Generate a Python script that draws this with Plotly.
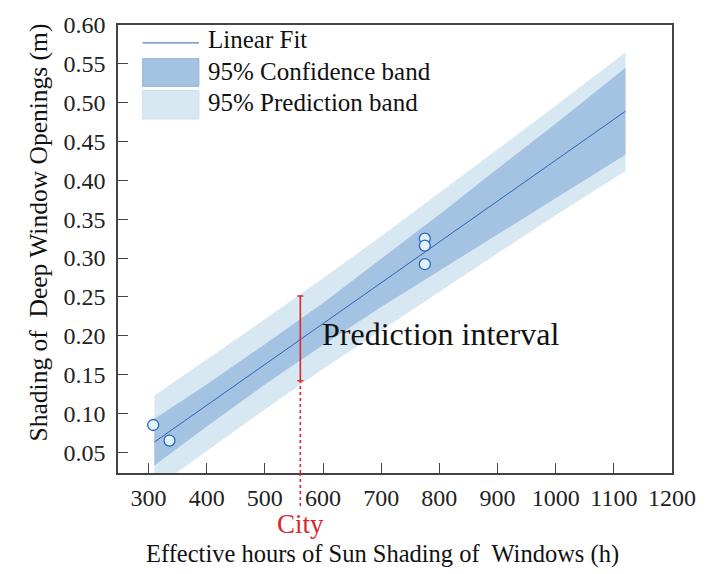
import plotly.graph_objects as go

# Measured samples: effective sun-shading hours vs. deep window opening shading
hours = [308, 336, 775, 775, 775]
shading = [0.085, 0.065, 0.325, 0.316, 0.292]

# Linear fit end points
fit_x = [310, 1120]
fit_y = [0.063, 0.489]

# 95% confidence / prediction band edges
band_x = [310, 400, 500, 600, 700, 800, 900, 1000, 1120]
conf_upper = [0.093, 0.137, 0.189, 0.242, 0.299, 0.356, 0.415, 0.473, 0.545]
conf_lower = [0.033, 0.083, 0.137, 0.188, 0.237, 0.284, 0.331, 0.377, 0.433]
pred_upper = [0.123, 0.169, 0.221, 0.274, 0.328, 0.384, 0.440, 0.496, 0.565]
pred_lower = [0.003, 0.051, 0.105, 0.157, 0.207, 0.257, 0.306, 0.355, 0.412]

# Prediction interval for the city
city_x = 561
city_low = 0.142
city_high = 0.251

x_ticks = [300, 400, 500, 600, 700, 800, 900, 1000, 1100, 1200]
y_ticks = [0.05, 0.10, 0.15, 0.20, 0.25, 0.30, 0.35, 0.40, 0.45, 0.50, 0.55, 0.60]

SERIF = "'Liberation Serif', 'Times New Roman', Times, serif"
PRED_FILL = "rgb(216,232,243)"
CONF_FILL = "rgb(164,195,226)"
FIT_COLOR = "rgb(45,100,175)"
RED = "rgb(214,40,46)"

fig = go.Figure()

# Prediction band
fig.add_trace(go.Scatter(x=band_x, y=pred_lower, mode="lines",
                         line=dict(width=0), showlegend=False, hoverinfo="skip"))
fig.add_trace(go.Scatter(x=band_x, y=pred_upper, mode="lines", fill="tonexty",
                         fillcolor=PRED_FILL, line=dict(width=0),
                         showlegend=False, hoverinfo="skip"))
# Confidence band
fig.add_trace(go.Scatter(x=band_x, y=conf_lower, mode="lines",
                         line=dict(width=0), showlegend=False, hoverinfo="skip"))
fig.add_trace(go.Scatter(x=band_x, y=conf_upper, mode="lines", fill="tonexty",
                         fillcolor=CONF_FILL, line=dict(width=0),
                         showlegend=False, hoverinfo="skip"))
# Fit line
fig.add_trace(go.Scatter(x=fit_x, y=fit_y, mode="lines",
                         line=dict(color=FIT_COLOR, width=1), showlegend=False))

# Prediction interval bar with end caps
fig.add_trace(go.Scatter(
    x=[city_x], y=[city_low], mode="markers",
    marker=dict(size=1, opacity=0),
    error_y=dict(type="data", symmetric=False,
                 array=[city_high - city_low], arrayminus=[0],
                 color=RED, thickness=1.6, width=3),
    showlegend=False))

# Samples
fig.add_trace(go.Scatter(
    x=hours, y=shading, mode="markers",
    marker=dict(size=11, color="rgb(228,242,251)",
                line=dict(color="rgb(40,105,185)", width=1.3)),
    showlegend=False))

shapes = [
    # dotted guide from the interval down to the city label
    dict(type="line", xref="x", yref="y", x0=city_x, x1=city_x,
         y0=0.0232, y1=city_low, line=dict(color=RED, width=1.6, dash="dot")),
    dict(type="line", xref="x", yref="paper", x0=city_x, x1=city_x,
         y0=0, y1=-0.080, line=dict(color=RED, width=1.6, dash="dot")),
    # legend symbols
    dict(type="line", xref="paper", yref="paper", x0=0.0445, x1=0.146,
         y0=0.960, y1=0.960, line=dict(color=FIT_COLOR, width=1)),
    dict(type="rect", xref="paper", yref="paper", x0=0.0445, x1=0.146,
         y0=0.863, y1=0.925, fillcolor=CONF_FILL,
         line=dict(color="rgb(150,182,216)", width=1)),
    dict(type="rect", xref="paper", yref="paper", x0=0.0445, x1=0.146,
         y0=0.790, y1=0.854, fillcolor=PRED_FILL,
         line=dict(color="rgb(205,224,239)", width=1)),
]

legend_font = dict(family=SERIF, size=25, color="#111")
annotations = [
    dict(xref="paper", yref="paper", x=0.158, y=0.967, xanchor="left",
         yanchor="middle", text="Linear Fit", showarrow=False, font=legend_font),
    dict(xref="paper", yref="paper", x=0.158, y=0.897, xanchor="left",
         yanchor="middle", text="95% Confidence band", showarrow=False,
         font=legend_font),
    dict(xref="paper", yref="paper", x=0.158, y=0.827, xanchor="left",
         yanchor="middle", text="95% Prediction band", showarrow=False,
         font=legend_font),
    dict(xref="x", yref="y", x=595, y=0.2018, xanchor="left", yanchor="middle",
         text="Prediction interval", showarrow=False,
         font=dict(family=SERIF, size=32, color="#111")),
    dict(xref="x", yref="paper", x=city_x, y=-0.113, xanchor="center",
         yanchor="middle", text="City", showarrow=False,
         font=dict(family=SERIF, size=27, color=RED)),
    dict(xref="paper", yref="paper", x=0.478, y=-0.181, xanchor="center",
         yanchor="middle", text="Effective hours of Sun Shading of&nbsp; Windows (h)",
         showarrow=False, font=dict(family=SERIF, size=24.5, color="#111")),
    dict(xref="paper", yref="paper", x=-0.144, y=0.5376, xanchor="center",
         yanchor="middle", textangle=-90,
         text="Shading of&nbsp; Deep Window Openings (m)",
         showarrow=False, font=dict(family=SERIF, size=25.5, color="#111")),
]

axis_common = dict(showline=True, linecolor="#444", linewidth=1.5, mirror=True,
                   ticks="inside", ticklen=10, tickwidth=1.3, tickcolor="#444",
                   showgrid=False, zeroline=False,
                   tickfont=dict(family=SERIF, size=24, color="#222"))

fig.update_layout(
    width=708, height=574, autosize=False,
    margin=dict(l=118, r=28, t=21, b=101),
    paper_bgcolor="white", plot_bgcolor="white",
    shapes=shapes, annotations=annotations,
    xaxis=dict(range=[247.5, 1200], tickvals=x_ticks,
               ticktext=[str(v) for v in x_ticks], ticklabelstandoff=2,
               **axis_common),
    yaxis=dict(range=[0.0232, 0.6], tickvals=y_ticks,
               ticktext=[f"{v:.2f}" for v in y_ticks], ticklabelstandoff=6,
               **axis_common),
)

fig.write_html("out.html")
